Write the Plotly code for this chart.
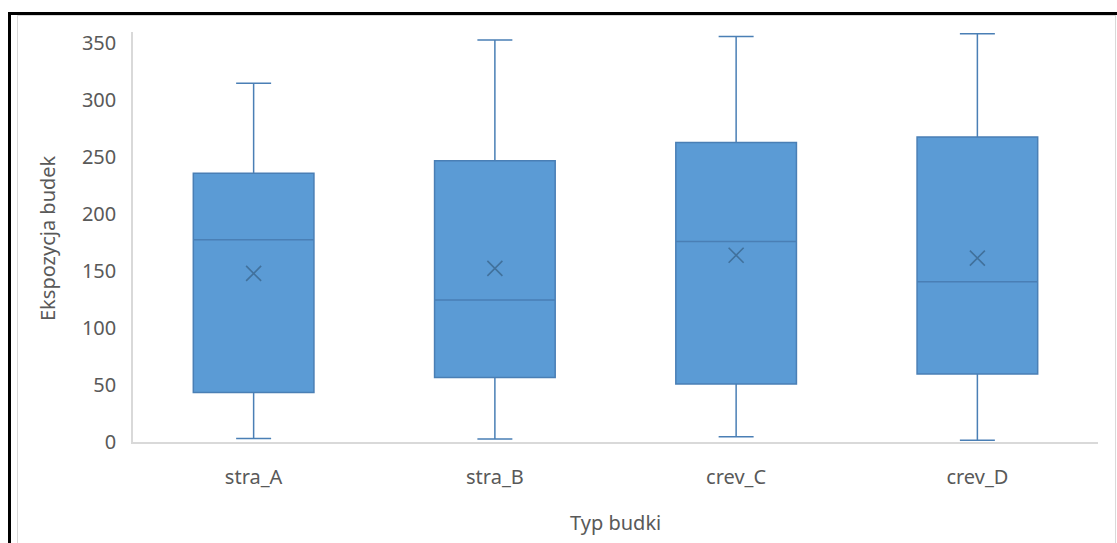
import plotly.graph_objects as go

categories = ["stra_A", "stra_B", "crev_C", "crev_D"]
lower_whisker = [3.0, 2.6, 4.7, 1.5]
q1_values = [43.5, 56.7, 51.0, 59.6]
median_values = [177.5, 124.6, 176.0, 140.6]
q3_values = [236.0, 247.0, 263.0, 267.8]
upper_whisker = [315.0, 353.0, 356.0, 358.5]
mean_values = [148.0, 152.4, 164.0, 161.5]
y_ticks = [0, 50, 100, 150, 200, 250, 300, 350]

W, H = 1117, 543
L, R, T, B = 133, 19, 32, 101
PW, PH = W - L - R, H - T - B


def px(x):
    return (x - L) / PW


def py(y):
    return (H - B - y) / PH


FONT = "Noto Sans"
TXT = "#595959"
FS = 20

fig = go.Figure()
fig.add_trace(go.Box(
    x=categories,
    q1=q1_values,
    median=median_values,
    q3=q3_values,
    lowerfence=lower_whisker,
    upperfence=upper_whisker,
    boxpoints=False,
    fillcolor="#5B9BD5",
    line=dict(color="#4A7FB5", width=1.5),
    whiskerwidth=0.29,
    width=0.5,
    showlegend=False,
    hoverinfo="skip",
))
fig.add_trace(go.Scatter(
    x=categories,
    y=mean_values,
    mode="markers",
    marker=dict(symbol="x-thin", size=15, line=dict(color="#41719C", width=1.6)),
    showlegend=False,
    hoverinfo="skip",
))

shapes = [
    dict(type="line", xref="paper", yref="paper", x0=px(9.5), x1=px(9.5), y0=py(12), y1=py(545),
         line=dict(color="black", width=3)),
    dict(type="line", xref="paper", yref="paper", x0=px(8), x1=px(1118), y0=py(13.5), y1=py(13.5),
         line=dict(color="black", width=3)),
    dict(type="line", xref="paper", yref="paper", x0=px(17.5), x1=px(17.5), y0=py(15), y1=py(545),
         line=dict(color="#D9D9D9", width=1)),
    dict(type="line", xref="paper", yref="paper", x0=px(17), x1=px(1116), y0=py(15.5), y1=py(15.5),
         line=dict(color="#D9D9D9", width=1)),
    dict(type="line", xref="paper", yref="paper", x0=px(1115.5), x1=px(1115.5), y0=py(15), y1=py(545),
         line=dict(color="#D9D9D9", width=1)),
]

annotations = [
    dict(text="Ekspozycja budek", xref="paper", yref="paper", x=px(47), y=py(238),
         xanchor="center", yanchor="middle", textangle=-90, showarrow=False,
         font=dict(family=FONT, size=FS, color=TXT)),
    dict(text="Typ budki", xref="paper", yref="paper", x=0.5, y=py(522),
         xanchor="center", yanchor="middle", showarrow=False,
         font=dict(family=FONT, size=FS, color=TXT)),
]

fig.update_layout(
    width=W, height=H,
    margin=dict(l=L, r=R, t=T, b=B, autoexpand=False),
    paper_bgcolor="white", plot_bgcolor="white",
    font=dict(family=FONT, size=FS, color=TXT),
    shapes=shapes,
    annotations=annotations,
    xaxis=dict(
        type="category", categoryorder="array", categoryarray=categories,
        range=[-0.5, 3.5], automargin=False,
        showline=True, linecolor="#D9D9D9", linewidth=1.5,
        showgrid=False, zeroline=False, ticks="",
        tickfont=dict(family=FONT, size=FS, color=TXT),
        ticklabelstandoff=16,
    ),
    yaxis=dict(
        range=[0, 360], tickvals=y_ticks, automargin=False,
        showline=True, linecolor="#D9D9D9", linewidth=1.5,
        showgrid=False, zeroline=False, ticks="",
        tickfont=dict(family=FONT, size=FS, color=TXT),
        ticklabelstandoff=11,
    ),
)

fig.write_html("out.html")
